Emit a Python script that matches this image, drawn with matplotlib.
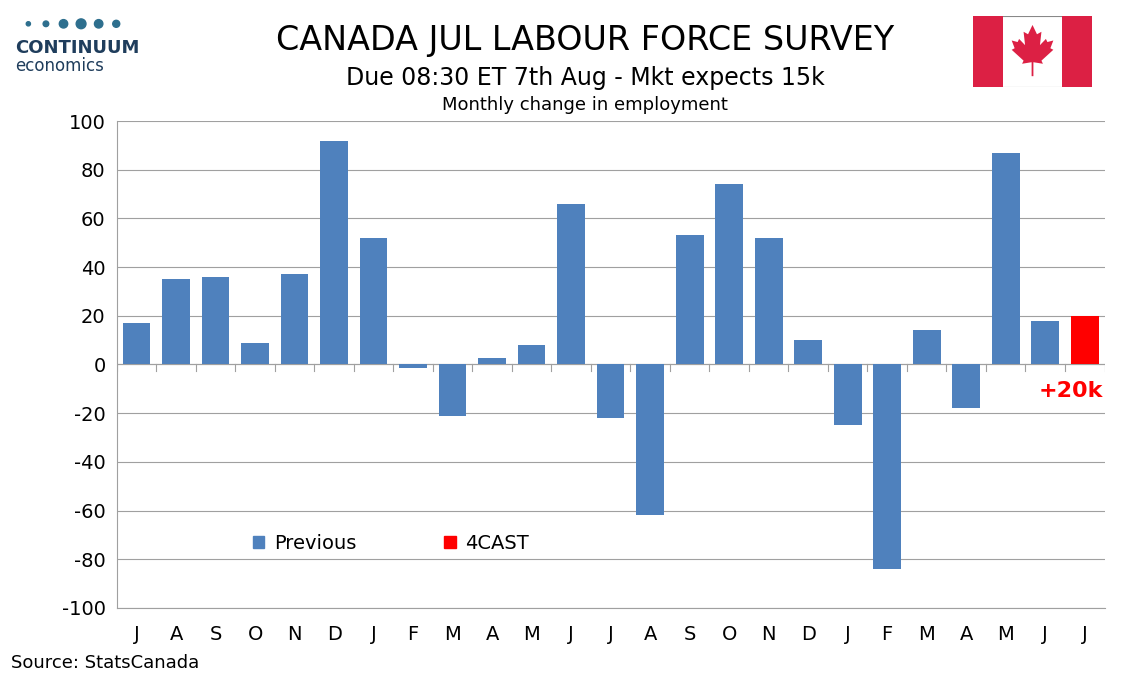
import numpy as np
import matplotlib
matplotlib.use("Agg")
import matplotlib.pyplot as plt
from matplotlib.patches import Rectangle, Polygon, Patch

plt.rcParams["axes.unicode_minus"] = False

months = ["J", "A", "S", "O", "N", "D", "J", "F", "M", "A", "M", "J", "J",
          "A", "S", "O", "N", "D", "J", "F", "M", "A", "M", "J", "J"]
previous = [17, 35, 36, 9, 37, 92, 52, -1.5, -21, 2.5, 8, 66, -22,
            -62, 53, 74, 52, 10, -25, -84, 14, -18, 87, 18]
forecast = 20

BLUE = "#4f81bd"
RED = "#ff0000"

fig = plt.figure(figsize=(11.34, 6.8), dpi=100)
ax = fig.add_axes([0.103, 0.106, 0.871, 0.716])

x = np.arange(len(months))
ax.bar(x[:-1], previous, width=0.7, color=BLUE, zorder=3)
ax.bar(x[-1], forecast, width=0.7, color=RED, zorder=3)
ax.set_xlim(-0.5, len(months) - 0.5)
ax.set_ylim(-100, 100)
ax.set_yticks(range(-100, 101, 20))
ax.tick_params(axis="y", labelsize=14, length=0, pad=8)
ax.grid(axis="y", color="#a0a0a0", lw=0.8, zorder=0)
for s in ("top", "right", "bottom"):
    ax.spines[s].set_visible(False)
ax.spines["left"].set_color("#a0a0a0")
ax.set_xticks([])
ax.axhline(0, color="#a0a0a0", lw=0.8, zorder=2)
ax.axhline(-100, color="#a0a0a0", lw=0.8, zorder=2, clip_on=False)
for b in np.arange(-0.5, len(months), 1.0):
    ax.plot([b, b], [0, -2.5], color="#a0a0a0", lw=0.8, zorder=2)
for i, m in enumerate(months):
    ax.text(i, -111, m, ha="center", va="center", fontsize=14)

ax.text(x[-1] - 0.35, -11, "+20k", color=RED, fontsize=16, fontweight="bold",
        ha="center", va="center")

ax.legend(handles=[Patch(color=BLUE, label="Previous"), Patch(color=RED, label="4CAST")],
          loc="center left", bbox_to_anchor=(0.12, 0.133), ncol=2, frameon=False,
          fontsize=14, handlelength=0.6, handleheight=0.6, columnspacing=4.5,
          handletextpad=0.5)

fig.text(0.516, 0.94, "CANADA JUL LABOUR FORCE SURVEY", ha="center", va="center", fontsize=24)
fig.text(0.516, 0.885, "Due 08:30 ET 7th Aug - Mkt expects 15k", ha="center", va="center", fontsize=17)
fig.text(0.516, 0.845, "Monthly change in employment", ha="center", va="center", fontsize=13)
fig.text(0.01, 0.025, "Source: StatsCanada", ha="left", va="center", fontsize=13)

# logo
for i, r in enumerate([3, 4, 6, 7, 6, 5]):
    fig.patches.append(matplotlib.patches.Ellipse((0.025 + i * 0.0155, 0.965), r / 1134 * 1.4,
                       r / 680 * 1.4, transform=fig.transFigure, color="#2e6f8e"))
fig.text(0.013, 0.93, "CONTINUUM", fontsize=13, fontweight="bold", color="#1f3d5c", va="center")
fig.text(0.013, 0.903, "economics", fontsize=12, color="#1f3d5c", va="center")

# flag
fa = fig.add_axes([0.858, 0.872, 0.105, 0.105])
fa.set_xlim(0, 4); fa.set_ylim(0, 2.3); fa.axis("off")
fa.add_patch(Rectangle((0, 0), 4, 2.3, fc="white", ec="#888888", lw=0.8))
fa.add_patch(Rectangle((0, 0), 1, 2.3, fc="#dc2044"))
fa.add_patch(Rectangle((3, 0), 1, 2.3, fc="#dc2044"))
leaf = [(2, 2.0), (1.85, 1.7), (1.7, 1.78), (1.75, 1.35), (1.55, 1.55), (1.5, 1.45),
        (1.3, 1.5), (1.4, 1.25), (1.3, 1.2), (1.7, 0.85), (1.65, 0.75), (1.97, 0.8),
        (1.97, 0.35), (2.03, 0.35), (2.03, 0.8), (2.35, 0.75), (2.3, 0.85), (2.7, 1.2),
        (2.6, 1.25), (2.7, 1.5), (2.5, 1.45), (2.45, 1.55), (2.25, 1.35), (2.3, 1.78),
        (2.15, 1.7)]
fa.add_patch(Polygon(leaf, fc="#dc2044"))

fig.savefig("out.png", dpi=100)
